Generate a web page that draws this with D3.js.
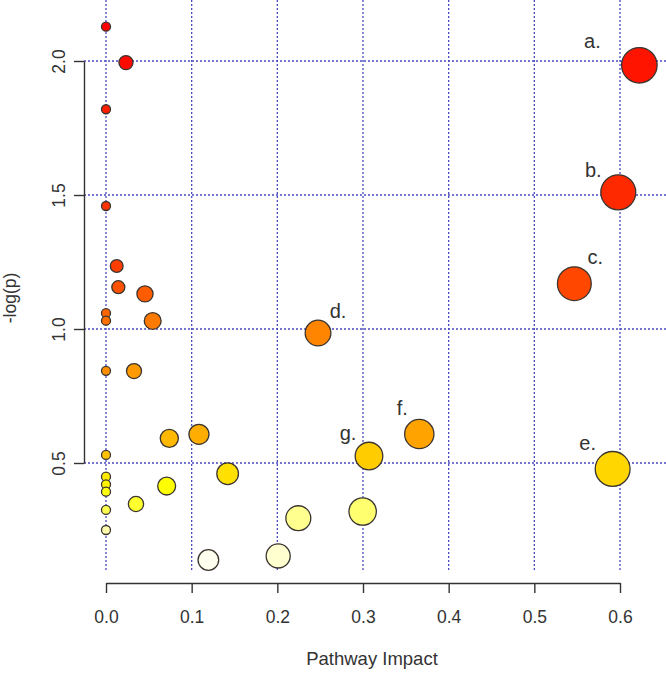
<!DOCTYPE html>
<html>
<head>
<meta charset="utf-8">
<script src="https://cdn.jsdelivr.net/npm/d3@7"></script>
<style>
  html, body { margin: 0; padding: 0; background: #fff; }
  svg { display: block; }
  text { font-family: "Liberation Sans", Arial, sans-serif; fill: #333; }
</style>
</head>
<body>
<svg id="chart" width="666" height="675"></svg>
<script>
// ---- data ----
const impact = [0, 0.0233, 0, 0, 0.0125, 0.0144, 0.0455, 0, 0, 0.0545,
                0, 0.0327, 0, 0.0739, 0.1085, 0, 0, 0, 0.0708, 0,
                0.035, 0, 0.142, 0.2245, 0.1195, 0.201, 0.2996, 0.307, 0.3657, 0.2475,
                0.6226, 0.598, 0.5467, 0.5914];
const logP = [2.128, 1.994, 1.82, 1.459, 1.235, 1.156, 1.131, 1.059, 1.031, 1.03,
              0.844, 0.843, 0.530, 0.592, 0.607, 0.449, 0.42, 0.393, 0.414, 0.325,
              0.347, 0.25, 0.460, 0.294, 0.138, 0.153, 0.319, 0.526, 0.608, 0.985,
              1.984, 1.51, 1.169, 0.478];
const pointLabels = ["", "", "", "", "", "", "", "", "", "",
                     "", "", "", "", "", "", "", "", "", "",
                     "", "", "", "", "", "", "", "g.", "f.", "d.",
                     "a.", "b.", "c.", "e."];
const xTicks = [0, 0.1, 0.2, 0.3, 0.4, 0.5, 0.6];
const yTicks = [0.5, 1.0, 1.5, 2.0];
const xTitle = "Pathway Impact";
const yTitle = "-log(p)";

// label placement relative to its point (pixels)
const labelOffset = {"a.": [-47, -24], "b.": [-25, -22], "c.": [21, -27], "d.": [20, -22],
                     "e.": [-25, -26], "f.": [-17, -26], "g.": [-21, -23]};

// R heat.colors(n)
function heatColors(n) {
  const j = Math.floor(n / 4), i = n - j, out = [];
  for (let k = 0; k < i; k++) {
    const h = i > 1 ? (k / (i - 1)) * 60 : 0;
    out.push(d3.hsl(h, 1, 0.5).formatHex());
  }
  for (let k = 0; k < j; k++) {
    const s = j > 1 ? (1 - 1 / (2 * j)) + k * ((1 / (2 * j)) - (1 - 1 / (2 * j))) / (j - 1) : 0.5;
    // hsv(h=1/6, s, v=1) -> rgb(1,1,1-s)
    out.push(d3.rgb(255, 255, Math.round(255 * (1 - s))).formatHex());
  }
  return out;
}

const data = impact.map((x, i) => ({x, y: logP[i], label: pointLabels[i]}));
const order = d3.range(data.length).sort((a, b) => data[b].y - data[a].y);
const pal = heatColors(data.length);
order.forEach((idx, r) => data[idx].color = pal[r]);

const svg = d3.select("#chart");
const x = d3.scaleLinear().domain([0, 0.6]).range([106, 620]);
const y = d3.scaleLinear().domain([0.5, 2.0]).range([463, 61]);
const r = d3.scaleSqrt().domain([0, 0.6]).range([4.5, 17.5]);

// grid
const gridColor = "#4a4ac0";
svg.append("g").selectAll("line").data(xTicks).join("line")
  .attr("x1", d => x(d)).attr("x2", d => x(d))
  .attr("y1", 0).attr("y2", 572)
  .attr("stroke", gridColor).attr("stroke-width", 1.3).attr("stroke-dasharray", "2,2");
svg.append("g").selectAll("line").data(yTicks).join("line")
  .attr("x1", 84).attr("x2", 666)
  .attr("y1", d => y(d)).attr("y2", d => y(d))
  .attr("stroke", gridColor).attr("stroke-width", 1.3).attr("stroke-dasharray", "2,2");

// axes
const xAxis = svg.append("g").attr("transform", "translate(0,583)")
  .call(d3.axisBottom(x).tickValues(xTicks).tickFormat(d3.format(".1f")).tickSize(10).tickSizeOuter(0).tickPadding(18));
const yAxis = svg.append("g").attr("transform", "translate(84,0)")
  .call(d3.axisLeft(y).tickValues(yTicks).tickFormat(d3.format(".1f")).tickSize(10).tickSizeOuter(0).tickPadding(0));
[xAxis, yAxis].forEach(g => {
  g.selectAll("path, line").attr("stroke", "#333").attr("stroke-width", 1.4);
  g.selectAll("text").attr("font-size", 17.5).attr("fill", "#333")
    .attr("font-family", "Liberation Sans, Arial, sans-serif");
});
yAxis.selectAll(".tick text")
  .attr("x", null).attr("dy", null)
  .attr("text-anchor", "middle")
  .attr("transform", "translate(-25,0) rotate(-90)")
  .attr("dy", "0.35em");

// axis titles
svg.append("text").attr("x", 372).attr("y", 665).attr("text-anchor", "middle")
  .attr("font-size", 18.5).text(xTitle);
svg.append("text").attr("transform", "translate(16,298) rotate(-90)")
  .attr("text-anchor", "middle").attr("font-size", 17.5).text(yTitle);

// points
svg.append("g").selectAll("circle").data(data).join("circle")
  .attr("cx", d => x(d.x)).attr("cy", d => y(d.y)).attr("r", d => r(d.x))
  .attr("fill", d => d.color).attr("stroke", "#3a3530").attr("stroke-width", 1.3);

// labels
svg.append("g").selectAll("text").data(data.filter(d => d.label)).join("text")
  .attr("x", d => x(d.x) + labelOffset[d.label][0])
  .attr("y", d => y(d.y) + labelOffset[d.label][1])
  .attr("text-anchor", "middle").attr("dy", "0.35em")
  .attr("font-size", 20).attr("fill", "#222")
  .text(d => d.label);
</script>
</body>
</html>
